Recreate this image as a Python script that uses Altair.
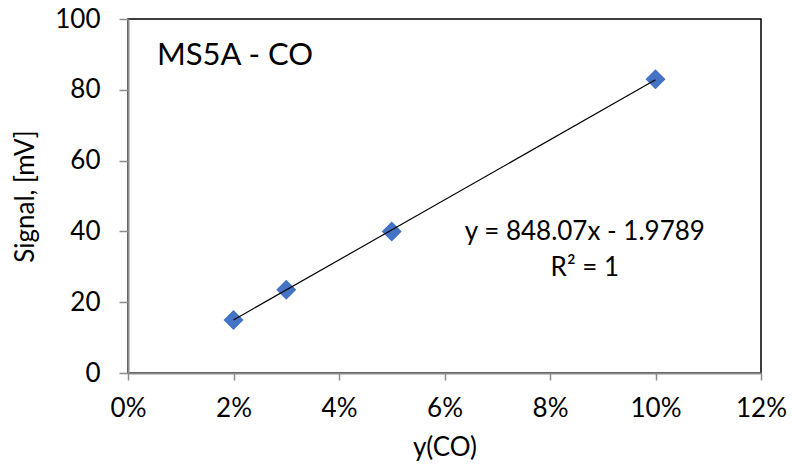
import altair as alt
import pandas as pd

# Calibration points for MS5A - CO
y_co = [0.02, 0.03, 0.05, 0.10]
signal_mv = [15.0, 23.5, 40.0, 83.0]

# Linear fit reported on the chart
slope = 848.07
intercept = -1.9789
fit_range = [0.02, 0.10]

x_ticks = [0, 0.02, 0.04, 0.06, 0.08, 0.10, 0.12]
y_ticks = [0, 20, 40, 60, 80, 100]

FONT = "Lato"

points = pd.DataFrame({"x": y_co, "y": signal_mv})
fit = pd.DataFrame({"x": fit_range, "y": [slope * v + intercept for v in fit_range]})

eq_text = pd.DataFrame({
    "x": [0.0866, 0.0866],
    "y": [39.8, 29.7],
    "label": [f"y = {slope:.2f}x - {abs(intercept):.4f}", "R\u00b2 = 1"],
})
title_text = pd.DataFrame({"x": [0.0055], "y": [89.6], "label": ["MS5A - CO"]})

x_scale = alt.Scale(domain=[0, 0.12], nice=False, zero=True)
y_scale = alt.Scale(domain=[0, 100], nice=False)

x_enc = alt.X(
    "x:Q", scale=x_scale, title="y(CO)",
    axis=alt.Axis(values=x_ticks, format=".0%", grid=False, tickSize=7,
                  labelFlush=False, labelPadding=15, titlePadding=13),
)
y_enc = alt.Y(
    "y:Q", scale=y_scale, title="Signal, [mV]",
    axis=alt.Axis(values=y_ticks, grid=False, tickSize=9, labelFlush=False,
                  labelPadding=19, titlePadding=16),
)

pts = alt.Chart(points).mark_point(
    shape="diamond", filled=True, size=400, color="#4472C4", opacity=1
).encode(x=x_enc, y=y_enc)

line = alt.Chart(fit).mark_line(color="black", strokeWidth=1.2).encode(
    x=alt.X("x:Q", scale=x_scale), y=alt.Y("y:Q", scale=y_scale)
)

eq = alt.Chart(eq_text).mark_text(
    font=FONT, fontSize=26, color="black", align="center", baseline="middle"
).encode(x=alt.X("x:Q", scale=x_scale), y=alt.Y("y:Q", scale=y_scale), text="label:N")

ttl = alt.Chart(title_text).mark_text(
    font=FONT, fontSize=31, color="black", align="left", baseline="middle"
).encode(x=alt.X("x:Q", scale=x_scale), y=alt.Y("y:Q", scale=y_scale), text="label:N")

chart = alt.layer(pts, line, eq, ttl).properties(
    width=633, height=354,
    background="white",
    autosize=alt.AutoSizeParams(type="none"),
    padding={"left": 128, "top": 19, "right": 31, "bottom": 95},
).configure_view(
    stroke="black", strokeWidth=1.5
).configure_axis(
    domainColor="#8c8c8c", domainWidth=2, tickColor="#8c8c8c", tickWidth=1.5,
    labelFont=FONT, labelFontSize=26, labelColor="black",
    titleFont=FONT, titleFontSize=26, titleColor="black", titleFontWeight="normal",
)

chart.save("out.html", embed_options={"renderer": "svg", "actions": False})
